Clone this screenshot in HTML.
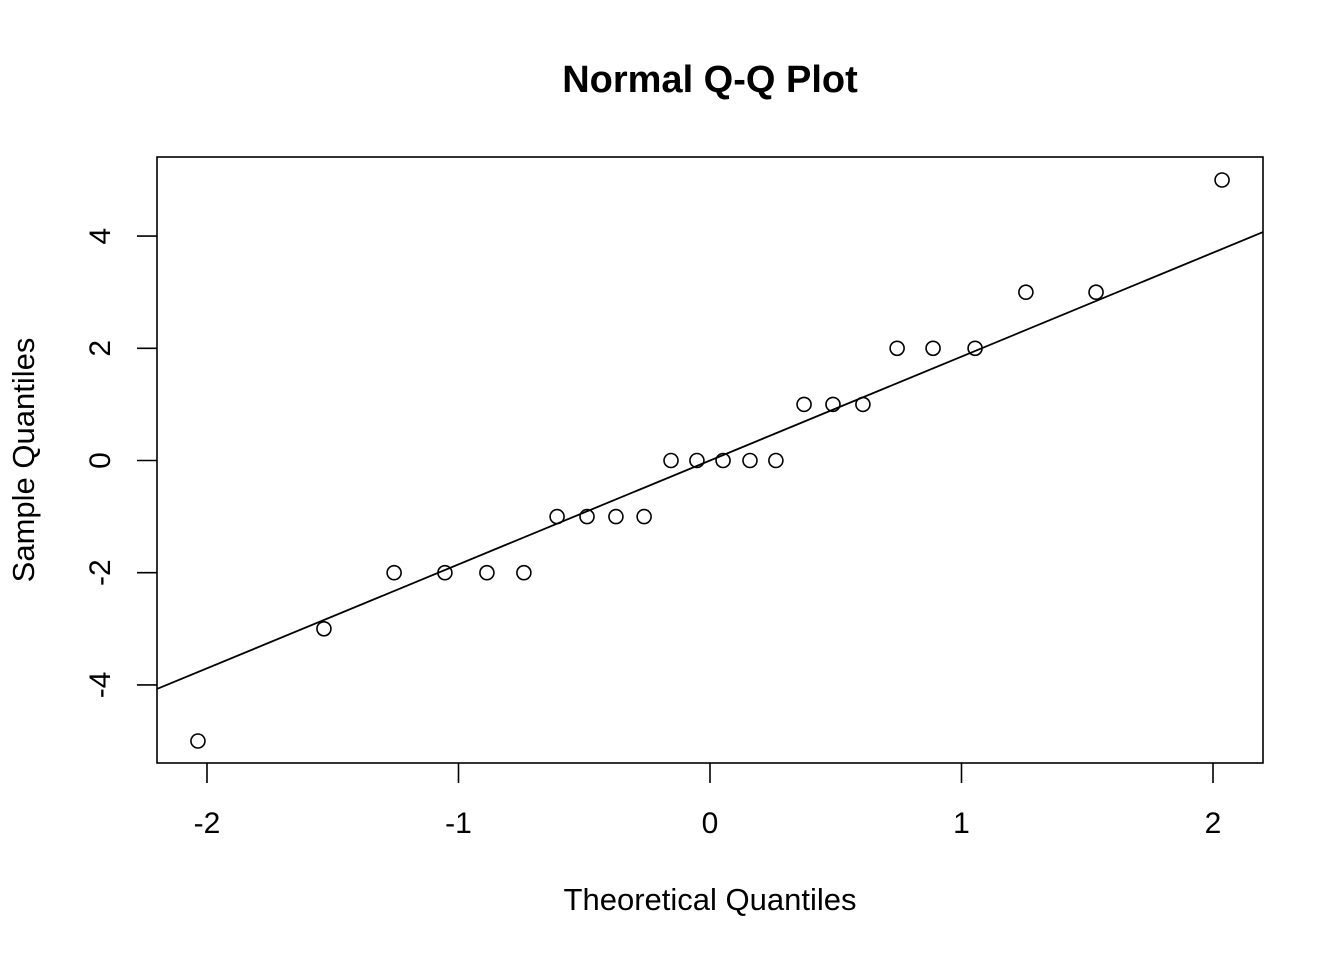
<!DOCTYPE html>
<html><head><meta charset="utf-8"><style>
body{margin:0;background:#fff;overflow:hidden}
text{font-family:"Liberation Sans",sans-serif;fill:#000}
</style></head><body>
<svg id="chart" width="1344" height="960" viewBox="0 0 1344 960" xmlns="http://www.w3.org/2000/svg">
<text x="710" y="92" text-anchor="middle" font-size="38" font-weight="bold">Normal Q-Q Plot</text>
<text x="710" y="910" text-anchor="middle" font-size="31">Theoretical Quantiles</text>
<text transform="translate(34,460) rotate(-90)" text-anchor="middle" font-size="31">Sample Quantiles</text>
<rect x="157" y="157" width="1106" height="606" fill="none" stroke="#000" stroke-width="1.6"/>
<g id="axes"></g>
<g id="marks"></g>
</svg>
<script>
const xTicks=[-2,-1,0,1,2];
const yTicks=[-4,-2,0,2,4];
const theoretical=[-2.036,-1.535,-1.256,-1.054,-0.887,-0.740,-0.608,-0.489,-0.374,-0.262,-0.155,-0.052,0.052,0.159,0.262,0.374,0.489,0.608,0.744,0.887,1.054,1.256,1.535,2.036];
const sample=[-5,-3,-2,-2,-2,-2,-1,-1,-1,-1,0,0,0,0,0,1,1,1,2,2,2,3,3,5];
const lineIntercept=[0];
const lineSlope=[1.852];
const NS="http://www.w3.org/2000/svg";
function xs(v){return 710+v*251.5;}
function ys(v){return 460.5-v*56.1;}
const axes=document.getElementById('axes'),marks=document.getElementById('marks');
function mk(tag,attrs,parent){const e=document.createElementNS(NS,tag);for(const k in attrs)e.setAttribute(k,attrs[k]);parent.appendChild(e);return e;}
xTicks.forEach(t=>{
  const l=mk('line',{x1:xs(t),x2:xs(t),y1:763,y2:783,stroke:'#000','stroke-width':1.6},axes);
  
  
  const tx=mk('text',{x:xs(t),y:833,'text-anchor':'middle','font-size':30},axes);
  tx.textContent=t;
  
  
});
yTicks.forEach(t=>{
  const l=mk('line',{x1:137,x2:157,y1:ys(t),y2:ys(t),stroke:'#000','stroke-width':1.6},axes);
  
  
  const tx=mk('text',{transform:`translate(110,${ys(t)}) rotate(-90)`,'text-anchor':'middle','font-size':30},axes);
  tx.textContent=t;
  
  
});
const x0=(157-710)/251.5,x1=(1263-710)/251.5;
const ln=mk('line',{x1:157,x2:1263,y1:ys(lineIntercept[0]+lineSlope[0]*x0),y2:ys(lineIntercept[0]+lineSlope[0]*x1),stroke:'#000','stroke-width':1.8},marks);


theoretical.forEach((t,i)=>{
  const c=mk('circle',{cx:xs(t),cy:ys(sample[i]),r:7,fill:'none',stroke:'#000','stroke-width':1.6},marks);
  
  
});
</script>
</body></html>
